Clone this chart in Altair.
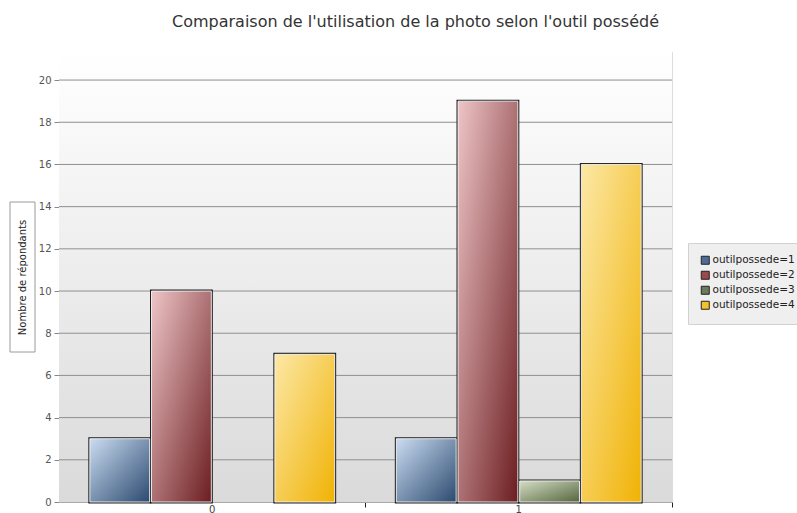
import altair as alt
import pandas as pd

# Survey counts: photo usage (0 / 1) split by the tool owned
groups = ["0", "1"]
series = ["outilpossede=1", "outilpossede=2", "outilpossede=3", "outilpossede=4"]
counts_tool1 = [3, 3]
counts_tool2 = [10, 19]
counts_tool3 = [0, 1]
counts_tool4 = [7, 16]
y_ticks = [0, 2, 4, 6, 8, 10, 12, 14, 16, 18, 20]

legend_colors = ["#4d6d97", "#9a4a4c", "#6b7b59", "#f2c12e"]
# light (top-left) and dark (bottom-right) shade of each series
shade_light = ["#cadcf1", "#eec5c7", "#d3ddc4", "#fce8a6"]
shade_dark = ["#2c4a70", "#6c1e21", "#56663e", "#f0b204"]

rows = []
for s, vals in zip(series, [counts_tool1, counts_tool2, counts_tool3, counts_tool4]):
    for g, v in zip(groups, vals):
        rows.append({"usage": g, "outil": s, "n": v})
df = pd.DataFrame(rows)
df = df[df["n"] > 0]

PLOT_W, PLOT_H = 613, 450
y_scale = alt.Scale(domain=[0, 21.33], nice=False)


def vgrad(lo, hi, x2=1, y2=1):
    return alt.Gradient(
        gradient="linear",
        x1=0, y1=0, x2=x2, y2=y2,
        stops=[
            alt.GradientStop(color=lo, offset=0),
            alt.GradientStop(color=hi, offset=1),
        ],
    )


y_axis = alt.Axis(
    values=y_ticks,
    title="Nombre de répondants",
    titleFont="DejaVu Sans",
    titleFontSize=10,
    titleFontWeight="normal",
    titleColor="#222222",
    titleAngle=270,
    titleX=-37,
    titleY=225,
    titleAlign="center",
    titleBaseline="middle",
    labelFont="DejaVu Sans",
    labelFontSize=10,
    labelColor="#555555",
    labelPadding=3,
    tickColor="#888888",
    tickSize=5,
    grid=False,
    domainColor="#b8b8b8",
)

x_enc = alt.X(
    "usage:N",
    title=None,
    sort=groups,
    scale=alt.Scale(paddingInner=0, paddingOuter=0),
    axis=alt.Axis(
        labelAngle=0,
        labelFont="DejaVu Sans",
        labelFontSize=10,
        labelColor="#444444",
        labelPadding=-3,
        labelBaseline="top",
        tickColor="#222222",
        tickSize=5,
        bandPosition=1,
        domainColor="#a8a8a8",
    ),
)
xoff_enc = alt.XOffset(
    "outil:N",
    scale=alt.Scale(domain=series, paddingOuter=0.5, paddingInner=0.03),
)
y_enc = alt.Y("n:Q", scale=y_scale, axis=y_axis)

# plot background shading, white at the top to light grey at the bottom
backdrop = alt.Chart(pd.DataFrame({"k": [0]})).mark_rect(
    fill=vgrad("#ffffff", "#dadada", x2=0, y2=1)
).encode(
    x=alt.value(0), x2=alt.value(PLOT_W), y=alt.value(0), y2=alt.value(PLOT_H)
)

# horizontal grid lines
grid = alt.Chart(pd.DataFrame({"v": y_ticks[1:]})).mark_rule(
    color="#8f8f8f", strokeWidth=1
).encode(y=alt.Y("v:Q", scale=y_scale, axis=y_axis))

# frame around the vertical axis title
title_box = alt.Chart(pd.DataFrame({"k": [0]})).mark_rect(
    fill="#ffffff", fillOpacity=0, stroke="#9a9a9a", strokeWidth=1
).encode(
    x=alt.value(-49), x2=alt.value(-24), y=alt.value(150), y2=alt.value(300)
)

base = alt.Chart(df)

# solid bars carry the legend and the dark outline
outline = base.mark_bar(stroke="#1e1e1e", strokeWidth=3).encode(
    x=x_enc,
    xOffset=xoff_enc,
    y=y_enc,
    color=alt.Color(
        "outil:N",
        scale=alt.Scale(domain=series, range=legend_colors),
        legend=alt.Legend(
            title=None,
            orient="none",
            legendX=629,
            legendY=191,
            padding=12,
            fillColor="#efefef",
            strokeColor="#d2d2d2",
            symbolType="square",
            symbolSize=64,
            symbolStrokeColor="#222222",
            symbolStrokeWidth=1,
            symbolOpacity=1,
            labelFont="DejaVu Sans",
            labelFontSize=10.5,
            labelColor="#222222",
            rowPadding=2,
            labelOffset=2,
        ),
    ),
)

# shaded fill of each series
shaded = []
for s, lo, hi in zip(series, shade_light, shade_dark):
    shaded.append(
        base.transform_filter(alt.datum.outil == s)
        .mark_bar(stroke="#ffffff", strokeWidth=1, strokeOpacity=0.85, fill=vgrad(lo, hi))
        .encode(x=x_enc, xOffset=xoff_enc, y=y_enc)
    )

chart = (
    alt.layer(backdrop, grid, title_box, outline, *shaded)
    .properties(
        width=PLOT_W,
        height=PLOT_H,
        autosize=alt.AutoSizeParams(type="none"),
        padding={"left": 59, "top": 52, "right": 125, "bottom": 11},
        title=alt.TitleParams(
            "Comparaison de l'utilisation de la photo selon l'outil possédé",
            font="DejaVu Sans",
            fontSize=16,
            fontWeight="normal",
            color="#333333",
            anchor="middle",
            dx=50,
            offset=22,
        ),
    )
    .configure_view(stroke="#c6c6c6")
    .configure(background="#ffffff")
)

chart.save("out.html", embed_options={"renderer": "svg", "actions": False})
